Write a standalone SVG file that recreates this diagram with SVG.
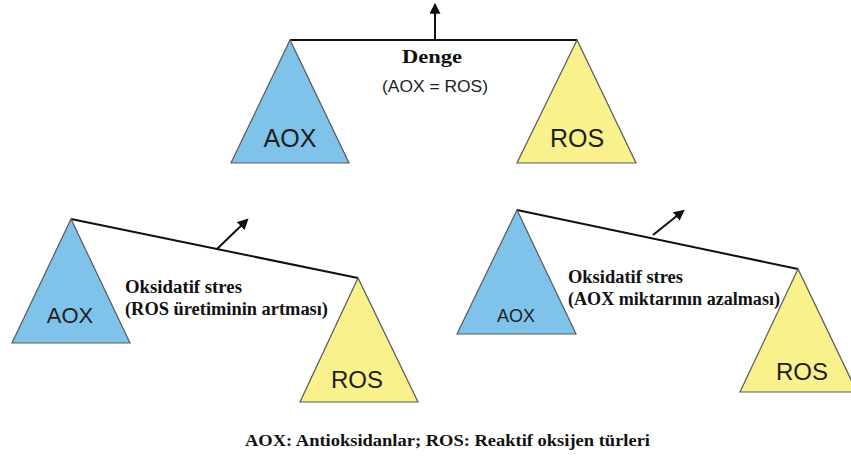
<svg xmlns="http://www.w3.org/2000/svg" width="851" height="457" viewBox="0 0 851 457">
<style>
.aox{fill:#7fc3ea;stroke:#5a5a5a;stroke-width:1.2}
.ros{fill:#f8f18c;stroke:#5a5a5a;stroke-width:1.2}
.lbl{font-family:"Liberation Sans",Arial,sans-serif;fill:#1e1e1e;text-anchor:middle}
.ser{font-family:"Liberation Serif","Times New Roman",serif;font-weight:bold;fill:#111}
.beam{stroke:#111;stroke-width:2;fill:none}
</style>
<defs>
<marker id="ah" viewBox="0 0 10 10" refX="8" refY="5" markerWidth="5.5" markerHeight="5.5" orient="auto">
<path d="M0,0 L10,5 L0,10 z" fill="#111"/>
</marker>
</defs>
<g id="connectors">
<line class="beam" x1="290" y1="40" x2="577" y2="40"/>
<line class="beam" x1="435" y1="40" x2="435" y2="5" marker-end="url(#ah)"/>
<line class="beam" x1="71" y1="219" x2="358" y2="278"/>
<line class="beam" x1="217" y1="249" x2="247" y2="220" marker-end="url(#ah)"/>
<line class="beam" x1="517" y1="210" x2="798" y2="269"/>
<line class="beam" x1="653" y1="235" x2="683" y2="211" marker-end="url(#ah)"/>
</g>
<g id="top-aox"><polygon class="aox" points="290,40 231,163 349,163"/><text class="lbl" x="290" y="147" font-size="25">AOX</text></g>
<g id="top-ros"><polygon class="ros" points="577,40 517,163 636,163"/><text class="lbl" x="577" y="147" font-size="25">ROS</text></g>
<g id="denge"><text class="ser" x="402" y="63" font-size="18" textLength="60" lengthAdjust="spacingAndGlyphs">Denge</text>
<text class="lbl" x="435" y="92" font-size="17" textLength="106" lengthAdjust="spacingAndGlyphs">(AOX = ROS)</text></g>
<g id="bl-aox"><polygon class="aox" points="71,219 12,343 130,343"/><text class="lbl" x="70" y="323" font-size="22">AOX</text></g>
<g id="bl-ros"><polygon class="ros" points="358,278 300,402 418,402"/><text class="lbl" x="357" y="388" font-size="24">ROS</text></g>
<g id="bl-text"><text class="ser" x="125" y="293" font-size="18" textLength="117" lengthAdjust="spacingAndGlyphs">Oksidatif stres</text>
<text class="ser" x="125" y="315" font-size="18" textLength="203" lengthAdjust="spacingAndGlyphs">(ROS üretiminin artması)</text></g>
<g id="br-aox"><polygon class="aox" points="517,210 457,334 576,334"/><text class="lbl" x="516" y="322" font-size="18">AOX</text></g>
<g id="br-ros"><polygon class="ros" points="798,269 740,392 857,392"/><text class="lbl" x="802" y="380" font-size="24">ROS</text></g>
<g id="br-text"><text class="ser" x="568" y="283" font-size="18" textLength="115" lengthAdjust="spacingAndGlyphs">Oksidatif stres</text>
<text class="ser" x="568" y="305" font-size="18" textLength="212" lengthAdjust="spacingAndGlyphs">(AOX miktarının azalması)</text></g>
<g id="caption"><text class="ser" x="245" y="446" font-size="16" textLength="405" lengthAdjust="spacingAndGlyphs">AOX: Antioksidanlar; ROS: Reaktif oksijen türleri</text></g>
</svg>
